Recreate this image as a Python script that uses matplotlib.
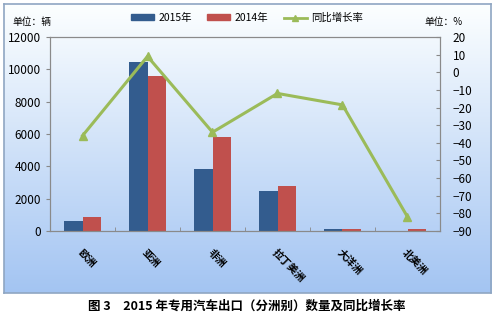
import numpy as np
import matplotlib.pyplot as plt
from matplotlib.lines import Line2D
from matplotlib.patches import Patch

plt.rcParams['font.family'] = ['Noto Sans CJK SC', 'DejaVu Sans']

regions = ['欧洲', '亚洲', '非洲', '拉丁美洲', '大洋洲', '北美洲']
y2015 = [600, 10450, 3850, 2450, 100, 20]
y2014 = [880, 9600, 5800, 2800, 100, 100]
growth = [-36, 9, -34, -12, -18.5, -82]

blue = '#335C8E'
red = '#C0504D'
green = '#9BBB59'

fig = plt.figure(figsize=(4.94, 3.21), dpi=100)

# gradient background box
bg = fig.add_axes([4/494, 1-293/321, 487/494, 289/321])
grad = np.linspace(0, 1, 256).reshape(-1, 1)
c_top = np.array([0.99, 1.0, 1.0])
c_bot = np.array([0.64, 0.77, 0.95])
img = c_top + (c_bot - c_top) * grad[:, :, None]
bg.imshow(img, aspect='auto', extent=[0, 1, 0, 1], origin='upper')
bg.set_xticks([])
bg.set_yticks([])
for s in bg.spines.values():
    s.set_color('#8FA6C2')
    s.set_linewidth(1.2)

ax = fig.add_axes([50/494, 1-231/321, 390/494, 194/321])
ax.set_facecolor('none')
x = np.arange(len(regions))
w = 0.28
ax.bar(x - w/2, y2015, w, color=blue, label='2015年')
ax.bar(x + w/2, y2014, w, color=red, label='2014年')
ax.set_xlim(-0.5, len(regions) - 0.5)
ax.set_ylim(0, 12000)
ax.set_yticks(range(0, 12001, 2000))
ax.set_xticks(x)
ax.set_xticklabels(regions, rotation=-45, ha='left', va='top', fontsize=7.5,
                   fontweight='bold', rotation_mode='anchor')
ax.set_xticks(np.arange(-0.5, len(regions)), minor=True)
ax.tick_params(axis='x', which='major', length=0, pad=12)
ax.tick_params(axis='x', which='minor', length=3, direction='in', color='#888888')
ax.tick_params(axis='y', labelsize=8.5, length=3, direction='out', color='#888888')
for s in ax.spines.values():
    s.set_color('#8A8A8A')

ax2 = ax.twinx()
ax2.plot(x, growth, color=green, lw=2.2, marker='^', ms=6, label='同比增长率')
ax2.set_ylim(-90, 20)
ax2.set_yticks(range(-90, 21, 10))
ax2.tick_params(axis='y', labelsize=8.5, length=3, direction='in', color='#888888',
                pad=9)
for s in ax2.spines.values():
    s.set_color('#8A8A8A')

handles = [Patch(color=blue), Patch(color=red),
           Line2D([], [], color=green, lw=2, marker='^', ms=5)]
fig.legend(handles, ['2015年', '2014年', '同比增长率'], loc='center',
           bbox_to_anchor=(0.5, 1-18/321), ncol=3, frameon=False, fontsize=7.5,
           handlelength=2.2, handleheight=0.5, columnspacing=1.5, handletextpad=0.4)

fig.text(12/494, 1-22/321, '单位：辆', fontsize=7, va='center', ha='left')
fig.text(463/494, 1-22/321, '单位：%', fontsize=7, va='center', ha='right')
fig.text(0.5, 1-306/321, '图 3　2015 年专用汽车出口（分洲别）数量及同比增长率',
         fontsize=9, fontweight='bold', ha='center', va='center')

fig.savefig('out.png', dpi=100)
